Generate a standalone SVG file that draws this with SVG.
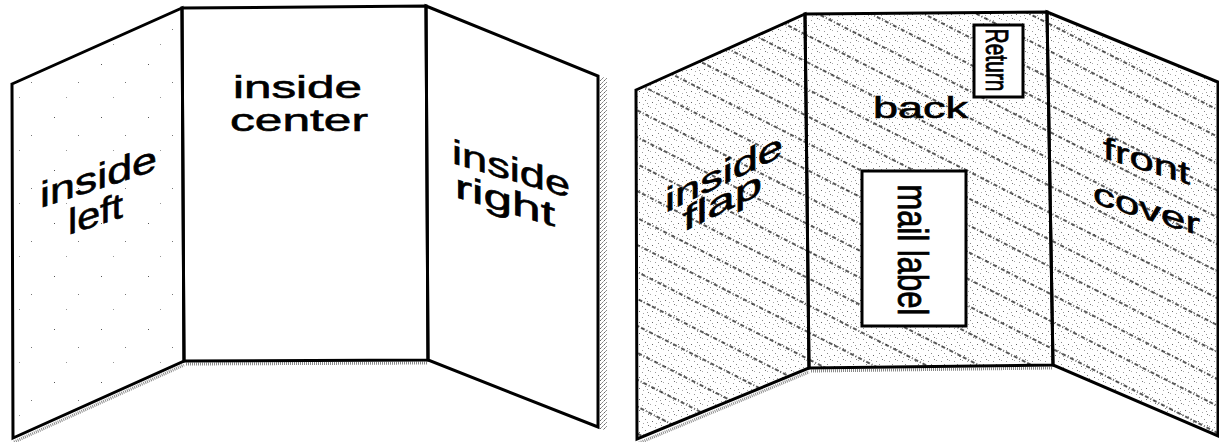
<svg xmlns="http://www.w3.org/2000/svg" width="1219" height="442" viewBox="0 0 1219 442">
<style>
.edge{fill:none;stroke:#000;stroke-width:3;stroke-linejoin:miter}
.lbl{font-family:"Liberation Sans",Arial,sans-serif;fill:#000;stroke:#000;stroke-width:0.6}
.box{fill:#fff;stroke:#000;stroke-width:3}
.halo{fill:none;stroke:#8a8a8a;stroke-width:3;stroke-dasharray:1 1}
</style>
<defs>
<pattern id="hatch" width="60" height="24" patternUnits="userSpaceOnUse" patternTransform="rotate(27)">
<line x1="0" y1="1" x2="60" y2="1" stroke="#222" stroke-width="1.3" stroke-dasharray="4 2 1 2"/>
</pattern>
<pattern id="speck" width="13" height="11" patternUnits="userSpaceOnUse">
<rect x="2" y="3" width="1" height="1" fill="#666"/>
<rect x="8" y="1" width="1" height="1" fill="#888"/>
<rect x="11" y="7" width="1" height="1" fill="#777"/>
<rect x="5" y="9" width="1" height="1" fill="#999"/>
<rect x="6" y="5" width="1" height="1" fill="#aaa"/>
<rect x="10" y="4" width="1" height="1" fill="#999"/>
<rect x="0" y="8" width="1" height="1" fill="#aaa"/>
</pattern>
<pattern id="sparse" width="47" height="53" patternUnits="userSpaceOnUse">
<rect x="7" y="11" width="1" height="1" fill="#555"/>
<rect x="31" y="29" width="1" height="1" fill="#777"/>
<rect x="19" y="44" width="1" height="1" fill="#999"/>
</pattern>
<pattern id="band" width="4" height="4" patternUnits="userSpaceOnUse">
<rect x="0" y="0" width="1" height="1" fill="#666"/>
<rect x="2" y="2" width="1" height="1" fill="#888"/>
<rect x="1" y="3" width="1" height="1" fill="#999"/>
<rect x="3" y="1" width="1" height="1" fill="#aaa"/>
</pattern>
</defs>
<rect width="1219" height="442" fill="#fff"/>

<!-- Left diagram -->
<g id="inside-left">
<polygon points="12,84 182,8 184,361 13,438" fill="url(#sparse)"/>
<polyline class="halo" points="14,442 184,365"/>
<polygon class="edge" points="12,84 182,8 184,361 13,438"/>
<text class="lbl" font-size="36" transform="translate(40,208) skewY(-18)" textLength="117" lengthAdjust="spacingAndGlyphs">inside</text>
<text class="lbl" font-size="36" transform="translate(68,235) skewY(-18)" textLength="55" lengthAdjust="spacingAndGlyphs">left</text>
</g>
<g id="inside-center">
<polyline class="halo" points="186,364 428,363"/>
<polygon class="edge" points="182,8 426,6 428,360 184,361"/>
<text class="lbl" font-size="32" x="233" y="98" textLength="129" lengthAdjust="spacingAndGlyphs">inside</text>
<text class="lbl" font-size="32" x="230" y="131" textLength="138" lengthAdjust="spacingAndGlyphs">center</text>
</g>
<g id="inside-right">
<rect x="600" y="77" width="7" height="353" fill="url(#band)"/>
<polygon class="edge" points="426,6 598,76 598,427 428,360"/>
<text class="lbl" font-size="34" transform="translate(452,163) skewY(16.5)" textLength="118" lengthAdjust="spacingAndGlyphs">inside</text>
<text class="lbl" font-size="34" transform="translate(455,197) skewY(16.5)" textLength="100" lengthAdjust="spacingAndGlyphs">right</text>
</g>

<!-- Right diagram -->
<g id="inside-flap">
<polygon points="636,90 805,14 809,368 637,439" fill="url(#speck)"/>
<polygon points="636,90 805,14 809,368 637,439" fill="url(#hatch)"/>
<polyline class="halo" points="639,443 809,372"/>
<polygon class="edge" points="636,90 805,14 809,368 637,439"/>
<text class="lbl" font-size="34" transform="translate(665,213) skewY(-26)" textLength="118" lengthAdjust="spacingAndGlyphs">inside</text>
<text class="lbl" font-size="34" transform="translate(683,232) skewY(-26)" textLength="79" lengthAdjust="spacingAndGlyphs">flap</text>
</g>
<g id="back">
<polygon points="805,14 1047,12 1053,365 809,368" fill="url(#speck)"/>
<polygon points="805,14 1047,12 1053,365 809,368" fill="url(#hatch)"/>
<polyline class="halo" points="811,371 1053,368"/>
<polygon class="edge" points="805,14 1047,12 1053,365 809,368"/>
<text class="lbl" font-size="29" x="873" y="118" textLength="95" lengthAdjust="spacingAndGlyphs">back</text>
</g>
<g id="return">
<rect class="box" x="974" y="25" width="49" height="72"/>
<text class="lbl" font-size="21" text-anchor="middle" transform="translate(986,60) scale(1.45,1) rotate(90)">Return</text>
</g>
<g id="mail-label">
<rect class="box" x="862" y="171" width="104" height="155"/>
<text class="lbl" font-size="31" text-anchor="middle" transform="translate(898,250) scale(1.4,1) rotate(90)">mail label</text>
</g>
<g id="front-cover">
<polygon points="1047,12 1218,82 1218,436 1053,365" fill="url(#speck)"/>
<polygon points="1047,12 1218,82 1218,436 1053,365" fill="url(#hatch)"/>
<polygon class="edge" points="1047,12 1218,82 1218,436 1053,365"/>
<text class="lbl" font-size="31" transform="translate(1103,158) skewY(17)" textLength="87" lengthAdjust="spacingAndGlyphs">front</text>
<text class="lbl" font-size="31" transform="translate(1093,203) skewY(17)" textLength="107" lengthAdjust="spacingAndGlyphs">cover</text>
</g>
<g id="connectors"></g>
</svg>
